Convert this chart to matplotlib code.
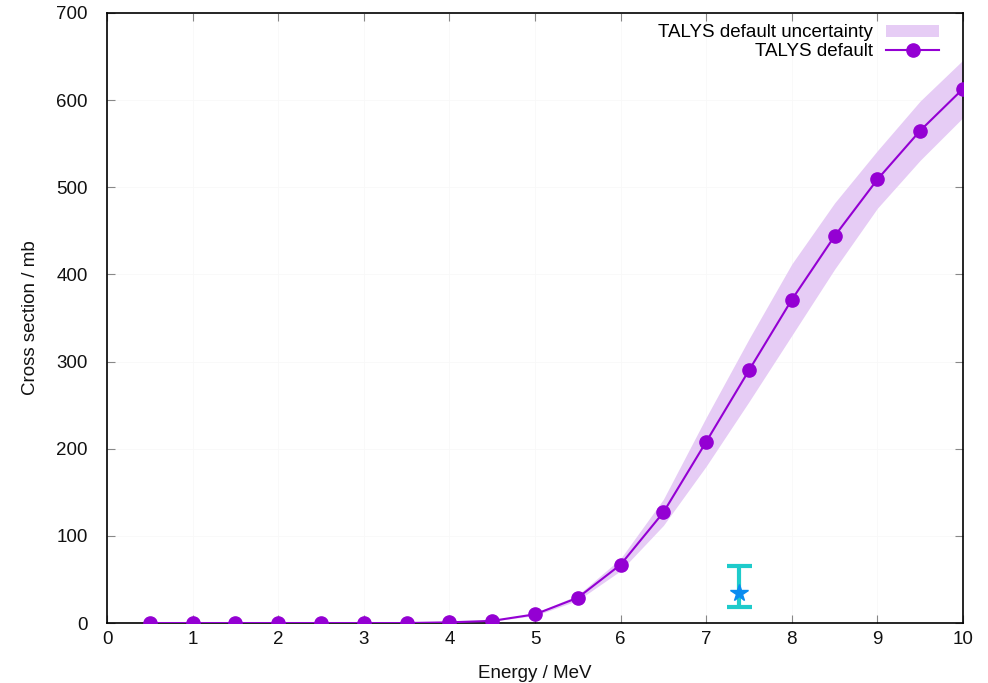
import matplotlib
matplotlib.use('Agg')
import matplotlib.pyplot as plt
from matplotlib.patches import Patch

plt.rcParams['font.family'] = ['Liberation Sans', 'DejaVu Sans']

# TALYS default cross section (mb) vs incident energy (MeV)
energy = [0.5, 1.0, 1.5, 2.0, 2.5, 3.0, 3.5, 4.0, 4.5, 5.0,
          5.5, 6.0, 6.5, 7.0, 7.5, 8.0, 8.5, 9.0, 9.5, 10.0]
xs_default = [0, 0, 0, 0, 0, 0, 0, 0.8, 2.5, 10,
              29, 67, 127, 208, 290, 371, 444, 509, 565, 613]
xs_lower = [0, 0, 0, 0, 0, 0, 0, 0.6, 2.1, 8.5,
            26, 60, 112, 180, 254, 330, 406, 476, 531, 580]
xs_upper = [0, 0, 0, 0, 0, 0, 0, 1.0, 3.0, 11.5,
            32, 74, 142, 236, 326, 412, 482, 542, 599, 646]

# measured point
exp_energy = [7.38]
exp_xs = [34]
exp_err_lo = [16]
exp_err_hi = [31]

purple = '#9400d3'
band_col = '#e6ccf5'

fig = plt.figure(figsize=(9.88, 6.83), dpi=100)
ax = fig.add_axes([0.1083, 0.0878, 0.8664, 0.8932])

ax.fill_between(energy, xs_lower, xs_upper, color=band_col, lw=0, zorder=1)
ax.plot(energy, xs_default, color=purple, lw=1.5, marker='o', ms=9.5, zorder=3)

ax.errorbar(exp_energy, exp_xs, yerr=[exp_err_lo, exp_err_hi], fmt='none',
            ecolor='#1ecbcb', elinewidth=3, capsize=9, capthick=3, zorder=4)
ax.plot(exp_energy, exp_xs, ls='none', marker='*', ms=13, color='#0a8cf0', zorder=5)

ax.set_xlim(0, 10)
ax.set_ylim(0, 700)
ax.set_xticks(range(0, 11))
ax.set_yticks(range(0, 701, 100))
ax.tick_params(direction='in', length=6, width=0.8, top=True, right=True,
               labelsize=13.5, colors='#888888', labelcolor='#111111')
ax.tick_params(axis='x', pad=6)
ax.tick_params(axis='y', pad=14)
ax.grid(True, color='#f8f8f8', lw=0.6)
ax.set_axisbelow(True)
for s in ax.spines.values():
    s.set_linewidth(1.2)

ax.set_xlabel('Energy / MeV', fontsize=13.5, labelpad=12, color='#111111')
ax.set_ylabel('Cross section / mb', fontsize=13.5, labelpad=12, color='#111111')

handles = [Patch(facecolor=band_col, edgecolor='none'),
           plt.Line2D([], [], color=purple, lw=1.5, marker='o', ms=9.5)]
ax.legend(handles, ['TALYS default uncertainty', 'TALYS default'],
          loc='upper right', frameon=False, markerfirst=False, fontsize=13.5,
          handlelength=2.8, handleheight=0.6, handletextpad=0.7,
          labelspacing=0.1, borderaxespad=0.2, bbox_to_anchor=(0.985, 1.0))

fig.savefig('out.png', dpi=100)
